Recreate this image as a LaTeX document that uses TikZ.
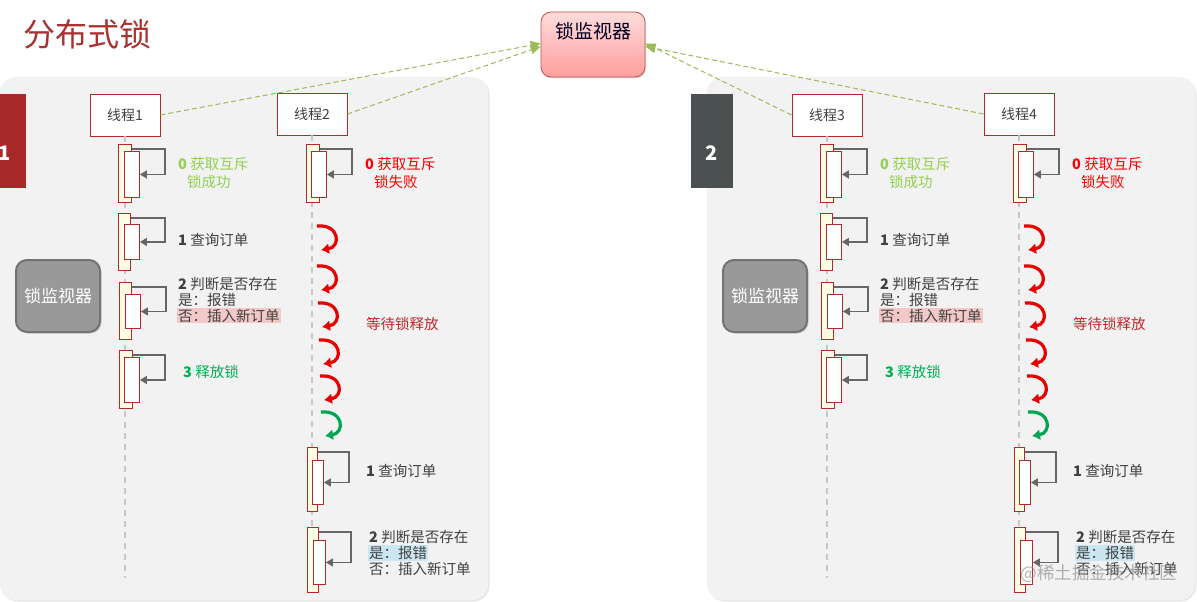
\documentclass[tikz,border=0pt]{standalone}
\usepackage{fontspec}
\setmainfont{Noto Sans CJK SC}
\usepackage{tikz}
\usetikzlibrary{positioning,arrows.meta,shadows}

\definecolor{boxred}{HTML}{B22A2A}
\definecolor{panelgray}{HTML}{F2F2F2}
\definecolor{barcream}{HTML}{FFFDE3}
\definecolor{watchgreen}{HTML}{9BBB59}
\definecolor{okgreen}{HTML}{92D050}
\definecolor{relgreen}{HTML}{00B050}
\definecolor{curlgreen}{HTML}{00A651}
\definecolor{curlred}{HTML}{E60000}
\definecolor{waitred}{HTML}{C0282D}
\definecolor{txtgray}{HTML}{404040}
\definecolor{hlpink}{HTML}{F2C8C8}
\definecolor{hlblue}{HTML}{CBE6F0}
\definecolor{tabred}{HTML}{A8292A}
\definecolor{tabgray}{HTML}{4A5150}
\definecolor{titlered}{HTML}{A83232}
\definecolor{pinktop}{HTML}{FFDCDC}
\definecolor{pinkbot}{HTML}{FF9E9E}
\definecolor{monborder}{HTML}{C0504D}

\tikzset{
  panel/.style={fill=panelgray, rounded corners=16pt, drop shadow={opacity=0.18, shadow xshift=1.5pt, shadow yshift=-1.5pt}},
  tab/.style={minimum width=42pt, minimum height=94pt, inner sep=0pt},
  tabnum/.style={text=white, font=\bfseries\fontsize{20}{20}\selectfont},
  thread/.style={draw=boxred, fill=white, line width=0.9pt, minimum width=70pt, minimum height=42pt, inner sep=0pt, text=txtgray, font=\fontsize{14}{14}\selectfont},
  outerbar/.style={draw=boxred, fill=barcream, line width=0.9pt, inner sep=0pt, anchor=north west},
  innerbar/.style={draw=boxred, fill=white, line width=0.9pt, inner sep=0pt, anchor=north west},
  selfcall/.style={draw=black!60, line width=1.4pt, -{Triangle[length=7pt,width=8pt]}},
  lifeline/.style={draw=black!22, line width=1.3pt, dash pattern=on 6pt off 5pt},
  watchline/.style={draw=watchgreen, line width=1pt, dash pattern=on 5pt off 3pt, -{Triangle[length=10pt,width=9pt]}},
  lbl/.style={anchor=west, inner sep=1pt, text=txtgray, font=\fontsize{14.5}{14.5}\selectfont},
  curl/.style={line width=3.2pt, -{Latex[length=8pt,width=11pt]}},
  graymon/.style={draw=black!55, line width=2pt, fill=black!40, rounded corners=11pt, minimum width=84pt, minimum height=72pt, text=white, font=\fontsize{17}{17}\selectfont, drop shadow={opacity=0.3, shadow xshift=1.5pt, shadow yshift=-1.5pt}},
  monitor/.style={draw=monborder, line width=0.8pt, rounded corners=10pt, top color=pinktop, bottom color=pinkbot, minimum width=104pt, minimum height=65pt, text height=14pt, text depth=26pt, text=black!85!blue, font=\fontsize{19}{19}\selectfont, drop shadow={opacity=0.3, shadow xshift=1pt, shadow yshift=-1.5pt}},
  title/.style={anchor=west, text=titlered, font=\fontsize{32}{32}\selectfont},
  wmtext/.style={anchor=west, text=black!40, opacity=0.75, font=\fontsize{17.5}{17.5}\selectfont},
}

% name, x, y, outer w, outer h, inner dx, inner dy, inner w, inner h
\newcommand{\actbar}[9]{%
  \node[outerbar, minimum width=#4pt, minimum height=#5pt] (#1o) at (#2,#3) {};
  \node[innerbar, minimum width=#8pt, minimum height=#9pt] (#1i) at ([xshift=#6pt,yshift=-#7pt]#1o.north west) {};
  \draw[selfcall] ([yshift=-5pt]#1o.north east) -| ([xshift=25pt]#1i.east) -- (#1i.east);
}

\begin{document}
\begin{tikzpicture}[x=1pt,y=-1pt]
	\useasboundingbox (0,0) rectangle (1197,602);
	\node[title] (title) at (20,34) {分布式锁};

	\foreach \p/\sa/\sb/\na/\nb/\tc/\tn in {a/0/0/1/2/tabred/1, b/702/707/3/4/tabgray/2}{
		\begin{scope}[xshift=\sb pt]
			\path[panel] (0,77) rectangle (488,600);
			\node[tab, fill=\tc] (tab\p) at (5,141) {};
			\node[tabnum] (tn\p) at ([yshift=-12pt]tab\p.center) {\tn};
			\node[graymon] (gm\p) at (58,296) {锁监视器};
		\end{scope}

		% first thread: takes the lock
		\begin{scope}[xshift=\sa pt]
			\node[thread] (th\na) at (125,115) {线程\na};
			\coordinate (end\na) at (125,578);
			\draw[lifeline] (th\na) -- (end\na);
			\actbar{k1\p}{118}{144}{13}{58}{6}{7}{15}{46}
			\actbar{k2\p}{118}{213}{12}{57}{6}{11}{15}{35}
			\actbar{k3\p}{119}{282}{12}{57}{6}{12}{15}{34}
			\actbar{k4\p}{119}{350}{13}{58}{5}{7}{15}{45}
			\node[lbl, text=okgreen] (g1\p) at (177,164) {\textbf{0} 获取互斥};
			\node[lbl, text=okgreen] (g2\p) at (186,182) {锁成功};
			\node[lbl] (q\p) at (177,240) {\textbf{1} 查询订单};
			\node[lbl] (j1\p) at (177,284) {\textbf{2} 判断是否存在};
			\node[lbl, below=0pt of j1\p.south west, anchor=north west] (j2\p) {是：报错};
			\node[lbl, fill=hlpink, below=0pt of j2\p.south west, anchor=north west] (j3\p) {否：插入新订单};
			\node[lbl, text=relgreen] (r\p) at (182,372) {\textbf{3} 释放锁};
		\end{scope}

		% second thread: waits
		\begin{scope}[xshift=\sb pt]
			\node[thread] (th\nb) at (312,114) {线程\nb};
			\coordinate (end\nb) at (312,596);
			\draw[lifeline] (th\nb) -- (end\nb);
			\actbar{m1\p}{306}{144}{13}{58}{5}{7}{15}{46}
			\actbar{m2\p}{307}{447}{10}{64}{5}{13}{11}{44}
			\actbar{m3\p}{307}{527}{11}{65}{6}{13}{12}{44}
			\node[lbl, text=red] (f1\p) at (364,164) {\textbf{0} 获取互斥};
			\node[lbl, text=red] (f2\p) at (373,182) {锁失败};
			\node[lbl, text=waitred] (w\p) at (365,324) {等待锁释放};
			\node[lbl] (qq\p) at (365,471) {\textbf{1} 查询订单};
			\node[lbl] (jj1\p) at (368,537) {\textbf{2} 判断是否存在};
			\node[lbl, fill=hlblue, below=0pt of jj1\p.south west, anchor=north west] (jj2\p) {是：报错\hspace{12pt}};
			\node[lbl, below=0pt of jj2\p.south west, anchor=north west] (jj3\p) {否：插入新订单};
			\foreach \y/\x/\cc in {226/317/curlred, 266/317/curlred, 303/318/curlred, 340/319/curlred, 376/320/curlred, 412/321/curlgreen}
				\draw[curl, \cc] (\x,\y) .. controls (\x+23,\y-2) and (\x+24,\y+21) .. (\x+4,\y+24);
		\end{scope}
	}

	\node[wmtext] (wm) at (1017,574) {@稀土掘金技术社区};

	\node[monitor] (mon) at (593,44.5) {锁监视器};
	\draw[watchline] (th1.east) -- ([yshift=1pt]mon.west);
	\draw[watchline] (th2.east) -- ([yshift=-2pt]mon.west);
	\draw[watchline] (th3.west) -- ([yshift=1pt]mon.east);
	\draw[watchline] (th4.west) -- ([yshift=-2pt]mon.east);
\end{tikzpicture}
\end{document}
